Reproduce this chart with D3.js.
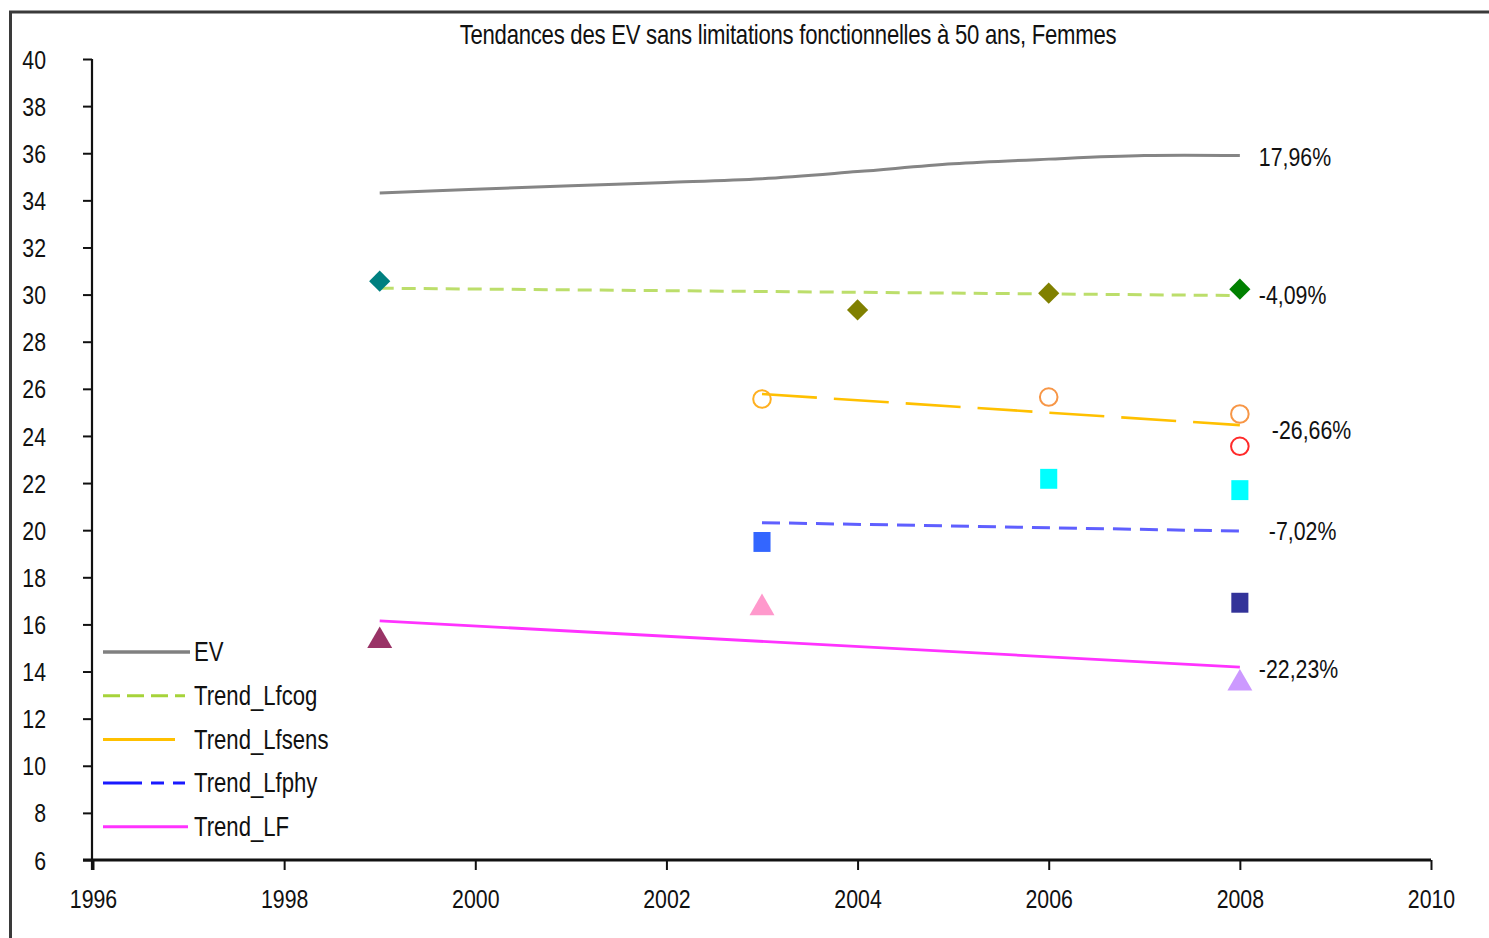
<!DOCTYPE html>
<html><head><meta charset="utf-8">
<script src="https://cdn.jsdelivr.net/npm/d3@7"></script>
<style>
html,body{margin:0;padding:0;background:#fff;}
svg{display:block;}
text{font-family:"Liberation Sans", Arial, sans-serif; fill:#111;}
</style></head>
<body>
<svg id="chart" width="1489" height="938"></svg>
<script>
// ---- data ----
const title = "Tendances des EV sans limitations fonctionnelles à 50 ans, Femmes";
const xTicks = [1996, 1998, 2000, 2002, 2004, 2006, 2008, 2010];
const yTicks = [6, 8, 10, 12, 14, 16, 18, 20, 22, 24, 26, 28, 30, 32, 34, 36, 38, 40];

const evYears  = [1999, 2000, 2001, 2002, 2003, 2004, 2005, 2006, 2007, 2008];
const evValues = [34.31, 34.47, 34.62, 34.76, 34.92, 35.22, 35.55, 35.75, 35.9, 35.9];

const cogTrendYears  = [1999, 2008];
const cogTrendValues = [30.27, 29.96];
const sensTrendYears  = [2003, 2008];
const sensTrendValues = [25.78, 24.46];
const phyTrendYears  = [2003, 2008];
const phyTrendValues = [20.32, 19.96];
const lfTrendYears  = [1999, 2008];
const lfTrendValues = [16.15, 14.19];

const cogYears  = [1999, 2004, 2006, 2008];
const cogValues = [30.57, 29.35, 30.06, 30.23];
const sensYears  = [2003, 2006, 2008, 2008];
const sensValues = [25.57, 25.65, 24.93, 23.56];
const phyYears  = [2003, 2006, 2008, 2008];
const phyValues = [19.5, 22.18, 21.7, 16.92];
const lfYears  = [1999, 2003, 2008];
const lfValues = [15.3, 16.7, 13.5];

const changeLabels = ["17,96%", "-4,09%", "-26,66%", "-7,02%", "-22,23%"];
const legendNames = ["EV", "Trend_Lfcog", "Trend_Lfsens", "Trend_Lfphy", "Trend_LF"];

// ---- styles ----
const cogColors  = ["#008080", "#808000", "#808000", "#008000"];
const sensColors = ["#ffb020", "#f79646", "#f79646", "#ff2a2a"];
const phyColors  = ["#3366ff", "#00ffff", "#00ffff", "#333399"];
const lfColors   = ["#993366", "#ff99cc", "#cc99ff"];

const SX = 0.82; // narrow font horizontal scale
const svg = d3.select("#chart");
const x = d3.scaleLinear().domain([1996, 2010]).range([93, 1431]);
const y = d3.scaleLinear().domain([6, 40]).range([860, 59]);

// outer frame (top & left)
svg.append("path").attr("d", "M10.5,1000 L10.5,12 L1500,12")
  .attr("fill", "none").attr("stroke", "#3a3a3a").attr("stroke-width", 3);

// title
svg.append("text").attr("transform", `translate(788,35) scale(${SX},1)`)
  .attr("text-anchor", "middle").attr("dominant-baseline", "central")
  .style("font-size", "27px").style("letter-spacing", "-0.3px").text(title);

// y axis
const yAxis = svg.append("g").attr("transform", `translate(${x(1996)-1},0)`)
  .call(d3.axisLeft(y).tickValues(yTicks).tickSize(9).tickSizeOuter(0).tickPadding(0).tickFormat(d3.format("d")));
yAxis.select(".domain").attr("stroke", "#111").attr("stroke-width", 2.2)
  .attr("d", `M0,${y(40)}V${y(6)+10}`);
yAxis.selectAll(".tick line").attr("stroke", "#111").attr("stroke-width", 2);
yAxis.selectAll(".tick text").attr("x", -46/SX).attr("dy", "0.35em")
  .attr("transform", `scale(${SX},1)`).style("font-size", "26px").attr("fill", "#111").attr("font-family", null);

// x axis
const xAxis = svg.append("g").attr("transform", `translate(0,${y(6)})`)
  .call(d3.axisBottom(x).tickValues(xTicks).tickSize(10).tickSizeOuter(0).tickPadding(20).tickFormat(d3.format("d")));
xAxis.select(".domain").attr("stroke", "#111").attr("stroke-width", 3)
  .attr("d", `M${x(1996)-10},0H${x(2010)}`);
xAxis.selectAll(".tick line").attr("stroke", "#111").attr("stroke-width", 2);
xAxis.selectAll(".tick text").attr("transform", `scale(${SX},1)`).style("font-size", "26px")
  .attr("fill", "#111").attr("font-family", null);

// lines
const line = d3.line().x(d => x(d[0])).y(d => y(d[1]));
const zip = (a, b) => a.map((v, i) => [v, b[i]]);

svg.append("path").datum(zip(evYears, evValues))
  .attr("d", line.curve(d3.curveCatmullRom.alpha(0.5))).attr("fill", "none")
  .attr("stroke", "#858585").attr("stroke-width", 3);
line.curve(d3.curveLinear);

svg.append("path").datum(zip(cogTrendYears, cogTrendValues)).attr("d", line)
  .attr("fill", "none").attr("stroke", "#a6d33a").attr("stroke-width", 3).attr("stroke-dasharray", "14,8").attr("stroke-opacity", 0.75);
svg.append("path").datum(zip(sensTrendYears, sensTrendValues)).attr("d", line)
  .attr("fill", "none").attr("stroke", "#ffc000").attr("stroke-width", 2.6).attr("stroke-dasharray", "55,17");
svg.append("path").datum(zip(phyTrendYears, phyTrendValues)).attr("d", line)
  .attr("fill", "none").attr("stroke", "#2a2aff").attr("stroke-width", 3).attr("stroke-dasharray", "18,9").attr("stroke-opacity", 0.75);
svg.append("path").datum(zip(lfTrendYears, lfTrendValues)).attr("d", line)
  .attr("fill", "none").attr("stroke", "#ff33ff").attr("stroke-width", 2.8);

// markers
const diamond = d3.symbol().type(d3.symbolSquare).size(225)();
svg.append("g").selectAll("path").data(zip(cogYears, cogValues)).join("path")
  .attr("d", diamond).attr("transform", d => `translate(${x(d[0])},${y(d[1])}) rotate(45)`)
  .attr("fill", (d, i) => cogColors[i]);

svg.append("g").selectAll("circle").data(zip(sensYears, sensValues)).join("circle")
  .attr("cx", d => x(d[0])).attr("cy", d => y(d[1])).attr("r", 8.8)
  .attr("fill", "none").attr("stroke", (d, i) => sensColors[i]).attr("stroke-width", 2);

const square = d3.symbol().type(d3.symbolSquare).size(360)();
svg.append("g").selectAll("path").data(zip(phyYears, phyValues)).join("path")
  .attr("d", square).attr("transform", d => `translate(${x(d[0])},${y(d[1])}) scale(0.9,1.05)`)
  .attr("fill", (d, i) => phyColors[i]);

const tri = d3.symbol().type(d3.symbolTriangle).size(270)();
svg.append("g").selectAll("path").data(zip(lfYears, lfValues)).join("path")
  .attr("d", tri).attr("transform", d => `translate(${x(d[0])},${y(d[1])})`)
  .attr("fill", (d, i) => lfColors[i]);

// change labels
const labelEnds = [evValues[evValues.length-1], cogTrendValues[1], sensTrendValues[1], phyTrendValues[1], lfTrendValues[1]];
const labelDx = [19, 19, 32, 29, 19];
const labelDy = [1, -1, 5, 0, 2];
svg.append("g").selectAll("text").data(changeLabels).join("text")
  .attr("transform", (d, i) => `translate(${x(2008)+labelDx[i]},${y(labelEnds[i])+labelDy[i]}) scale(${SX},1)`)
  .attr("dominant-baseline", "central").style("font-size", "26px").text(d => d);

// legend
const legendStyles = [
  {c: "#808080", w: 3.5, dash: null, len: 87},
  {c: "#a6d33a", w: 3, dash: "17,7", len: 82},
  {c: "#ffc000", w: 3, dash: null, len: 72},
  {c: "#1a1aff", w: 3, dash: "39,9,13,9,13", len: 82},
  {c: "#ff33ff", w: 3, dash: null, len: 85}
];
const lg = svg.append("g").selectAll("g").data(legendNames).join("g")
  .attr("transform", (d, i) => `translate(103,${652 + i*43.7})`);
lg.append("line").attr("x1", 0).attr("x2", (d, i) => legendStyles[i].len)
  .attr("stroke", (d, i) => legendStyles[i].c).attr("stroke-width", (d, i) => legendStyles[i].w)
  .attr("stroke-dasharray", (d, i) => legendStyles[i].dash);
lg.append("text").attr("transform", `translate(91,0) scale(${SX},1)`)
  .attr("dominant-baseline", "central").style("font-size", "27px").text(d => d);
</script>
</body></html>
